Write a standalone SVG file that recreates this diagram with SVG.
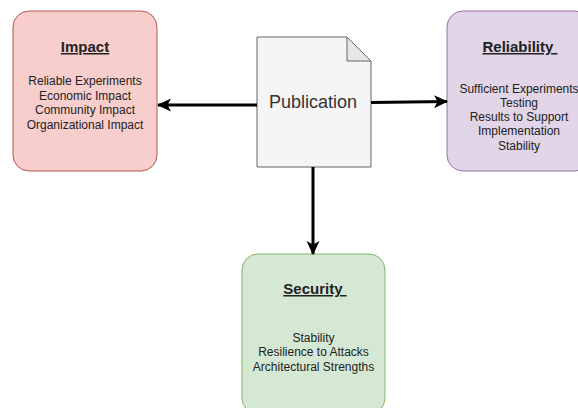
<svg xmlns="http://www.w3.org/2000/svg" width="578" height="408" viewBox="0 0 578 408">
<style>
  .t { font-family: "Liberation Sans", Arial, sans-serif; fill: #222; text-anchor: middle; }
  .title { font-size: 15px; font-weight: bold; text-decoration: underline; white-space: pre; }
  .body { font-size: 12px; }
  .conn { stroke: #000; stroke-width: 3; fill: none; }
</style>
<defs>
  <marker id="arr" markerUnits="userSpaceOnUse" viewBox="0 0 14 14" markerWidth="14" markerHeight="14" refX="13" refY="7" orient="auto">
    <path d="M0,0.5 L14,7 L0,13.5 L3.5,7 Z" fill="#000"/>
  </marker>
</defs>
<rect width="578" height="408" fill="#fff"/>
<g id="impact">
  <rect x="13" y="11" width="144" height="160" rx="16" fill="#f8cecc" stroke="#b85450"/>
  <text class="t title" x="85" y="52">Impact</text>
  <text class="t body" x="85" y="85">Reliable Experiments</text>
  <text class="t body" x="85" y="100">Economic Impact</text>
  <text class="t body" x="85" y="114">Community Impact</text>
  <text class="t body" x="85" y="129">Organizational Impact</text>
</g>
<g id="reliability">
  <rect x="447" y="11" width="144" height="160" rx="16" fill="#e1d5e7" stroke="#9673a6"/>
  <text class="t title" x="520" y="52">Reliability </text>
  <text class="t body" x="519" y="93">Sufficient Experiments</text>
  <text class="t body" x="519" y="107">Testing</text>
  <text class="t body" x="519" y="121">Results to Support</text>
  <text class="t body" x="519" y="135">Implementation</text>
  <text class="t body" x="519" y="150">Stability</text>
</g>
<g id="security">
  <rect x="242" y="254" width="143" height="160" rx="16" fill="#d5e8d4" stroke="#82b366"/>
  <text class="t title" x="315" y="294">Security </text>
  <text class="t body" x="313.5" y="342">Stability</text>
  <text class="t body" x="313.5" y="356">Resilience to Attacks</text>
  <text class="t body" x="313.5" y="371">Architectural Strengths</text>
</g>
<g id="publication">
  <path d="M257,37 H347 L371,61 V167 H257 Z" fill="#f5f5f5" stroke="#666"/>
  <path d="M347,37 V61 H371 Z" fill="#e6e6e6" stroke="#666"/>
  <text x="313" y="108" style="font-family: 'Liberation Sans', Arial, sans-serif; font-size: 18px; fill: #333; text-anchor: middle;">Publication</text>
</g>
<g id="connectors">
  <line class="conn" x1="257" y1="105" x2="158" y2="105" marker-end="url(#arr)"/>
  <path class="conn" d="M371,102.5 L447,101.5" marker-end="url(#arr)"/>
  <line class="conn" x1="313" y1="167" x2="313" y2="254" marker-end="url(#arr)"/>
</g>
</svg>
